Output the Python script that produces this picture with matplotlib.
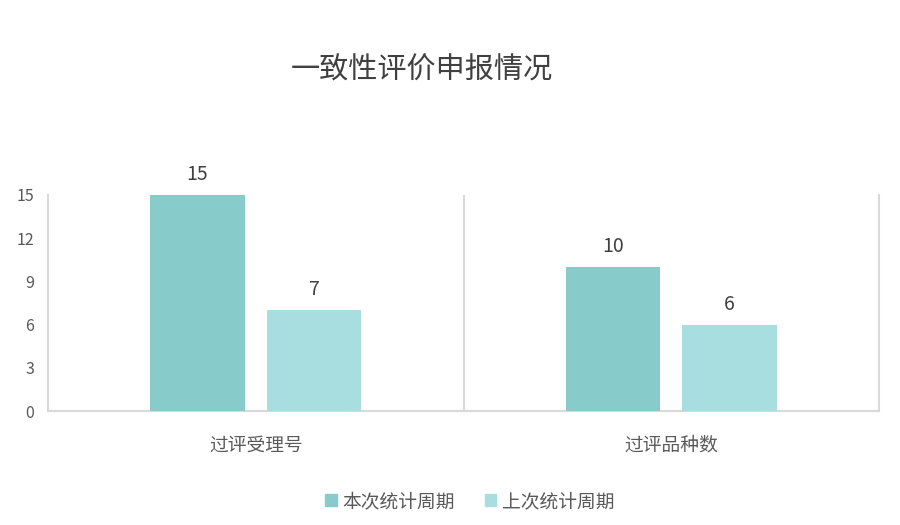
import matplotlib
matplotlib.use("Agg")
import matplotlib.pyplot as plt
import matplotlib.patches as mpatches
import numpy as np

plt.rcParams["font.family"] = ["Noto Sans CJK SC", "DejaVu Sans"]

categories = ["过评受理号", "过评品种数"]
series_names = ["本次统计周期", "上次统计周期"]
current = [15, 10]
previous = [7, 6]
yticks = [0, 3, 6, 9, 12, 15]

colors = ["#88CBCB", "#A9DEE0"]
grid_color = "#D9D9D9"
text_color = "#595959"

fig = plt.figure(figsize=(9, 5.25), dpi=100)
ax = fig.add_axes([0.0533, 0.2171, 0.9234, 0.4115])

x = np.arange(len(categories))
width = 0.228
offset = 0.14

b1 = ax.bar(x - offset, current, width, color=colors[0], label=series_names[0], zorder=3)
b2 = ax.bar(x + offset, previous, width, color=colors[1], label=series_names[1], zorder=3)

for bars, vals in ((b1, current), (b2, previous)):
    for rect, v in zip(bars, vals):
        ax.text(rect.get_x() + rect.get_width() / 2, v + 0.7, str(v),
                ha="center", va="bottom", fontsize=14, color="#404040")

ax.set_xlim(-0.5, len(categories) - 0.5)
ax.set_ylim(0, 15)
ax.set_yticks(yticks)
ax.set_xticks(x)
ax.set_xticklabels(categories, fontsize=13.5, color=text_color)
ax.tick_params(axis="y", length=0, labelsize=11.5, labelcolor=text_color, pad=10)
ax.tick_params(axis="x", length=0, pad=17)

# separadores verticales entre categorías
for xs in np.arange(0.5, len(categories) - 0.5, 1.0):
    ax.axvline(xs, color=grid_color, linewidth=1.5, zorder=1)

for side in ("left", "right", "bottom"):
    ax.spines[side].set_color(grid_color)
    ax.spines[side].set_linewidth(1.5)
ax.spines["top"].set_visible(False)

fig.text(0.469, 0.866, "一致性评价申报情况", ha="center", va="center",
         fontsize=21, color="#404040")

handles = [mpatches.Patch(color=c, label=n) for c, n in zip(colors, series_names)]
fig.legend(handles=handles, loc="center", bbox_to_anchor=(0.522, 0.045), ncol=2,
           frameon=False, fontsize=13.5, handlelength=0.6, handleheight=0.6,
           handletextpad=0.3, columnspacing=1.6, labelcolor=text_color)

fig.savefig("out.png", dpi=100)
